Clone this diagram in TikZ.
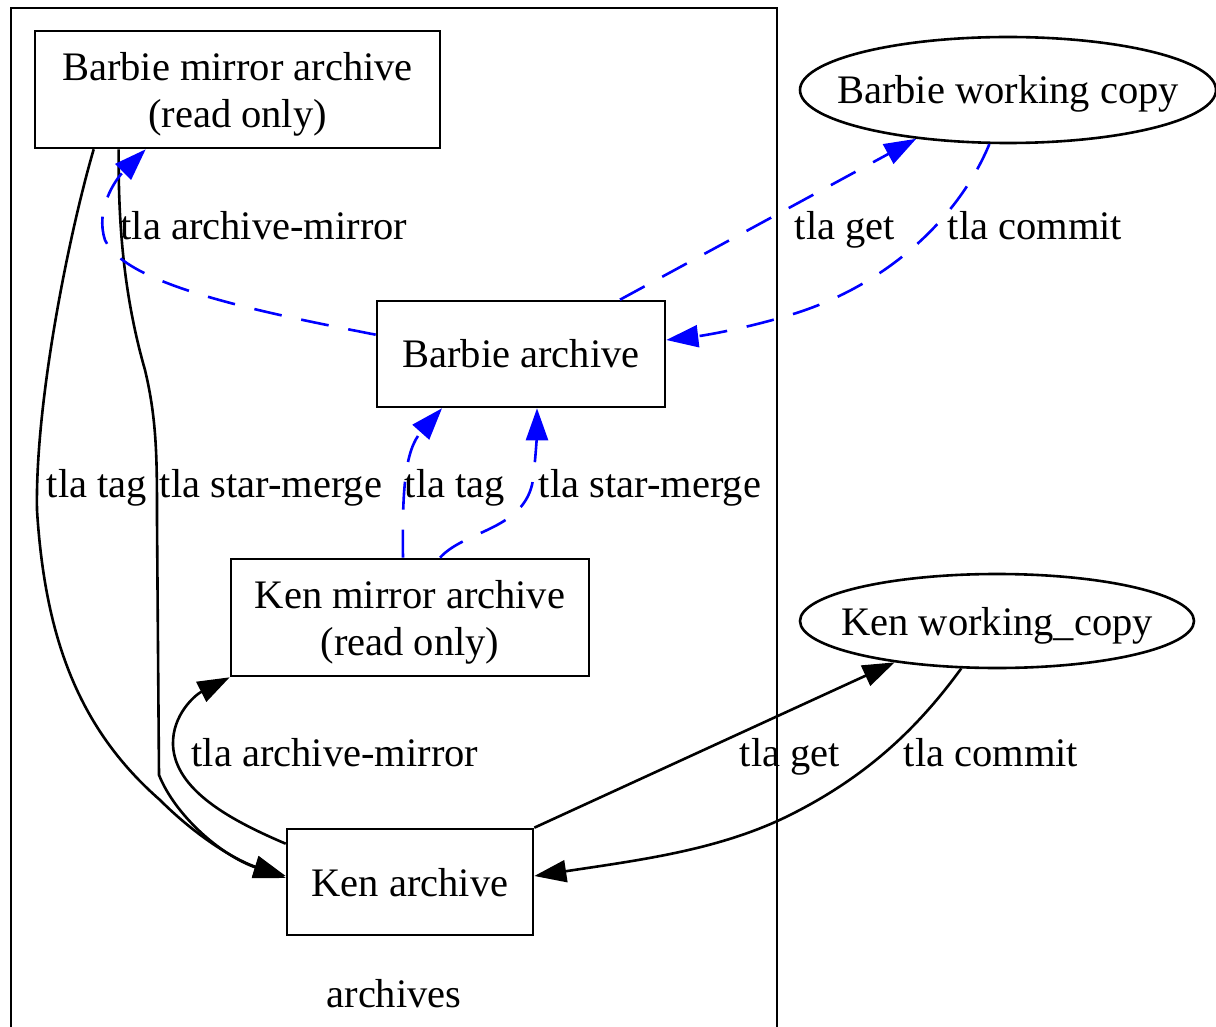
\documentclass[tikz,border=0pt]{standalone}
\usepackage{fontspec}
\setmainfont{Liberation Serif}
\usepackage{xcolor}
\usetikzlibrary{shapes.geometric, arrows.meta}

\begin{document}
\begin{tikzpicture}[x=0.5pt, y=-0.5pt, line width=1.3pt,
        every node/.style = {font=\fontsize{20.25}{23.8}\selectfont},
        box/.style = {draw, rectangle, align=center, inner sep=0pt, text height=14pt, text depth=0pt},
        twoline/.style = {text height=38.2pt, text depth=0pt},
        wcopy/.style = {draw, ellipse, inner sep=0pt, text height=14pt, text depth=0pt},
        lbl/.style = {anchor=base, inner sep=0pt},
        arr/.style = {-{Triangle[length=16pt, width=11pt]}},
        barr/.style = {arr, blue, dash pattern=on 14pt off 10pt}]
        \useasboundingbox (0,0) rectangle (1216,1027);

        \draw (11,1027) -- (11,8) -- (777,8) -- (777,1027);
        \node[lbl] (arch) at (394,1007) {archives};

        \node[box, twoline, minimum width=202.5pt, minimum height=58.5pt] (bma) at (237.5,89.5) {Barbie mirror archive\\(read only)};
        \node[box, minimum width=144pt, minimum height=53pt] (ba) at (521,354) {Barbie archive};
        \node[box, twoline, minimum width=179pt, minimum height=58.5pt] (kma) at (410,617.5) {Ken mirror archive\\(read only)};
        \node[box, minimum width=123pt, minimum height=53pt] (ka) at (410,882) {Ken archive};
        \node[wcopy, minimum width=208pt, minimum height=53pt] (bwc) at (1008,90) {\makebox[0pt]{Barbie working copy}};
        \node[wcopy, minimum width=197pt, minimum height=47pt] (kwc) at (997,621) {\makebox[0pt]{Ken working\_copy}};

        \draw[arr] ([xshift=30pt]bma.south west) .. controls (70,230) and (35,400) .. (37,510) .. controls (45,640) and (80,730) .. (160,800) .. controls (200,840) and (240,862) .. ([yshift=3pt]ka.west);
        \draw[arr] ([xshift=42.5pt]bma.south west) .. controls (118,230) and (125,300) .. (145,370) .. controls (157,420) and (157,460) .. (157,520) -- (159,775) .. controls (175,815) and (220,855) .. ([yshift=2pt]ka.west);
        \draw[arr] ([yshift=-8pt]ka.north west) .. controls (230,820) and (175,790) .. (173,745) .. controls (172,715) and (195,695) .. (kma.south west);
        \draw[arr] (ka.north east) -- (kwc.202);
        \draw[arr] (kwc.233) .. controls (920,725) and (870,775) .. (790,815) .. controls (720,850) and (640,860) .. ([yshift=3pt]ka.east);

        \draw[barr] ([yshift=-17.5pt]ba.north west) .. controls (260,312) and (125,285) .. (105,240) .. controls (95,210) and (115,180) .. ([xshift=56pt]bma.south west);
        \draw[barr] ([xshift=49.5pt]ba.north) -- (bwc.208);
        \draw[barr] (bwc.251) .. controls (960,215) and (890,285) .. (790,315) .. controls (740,330) and (700,336) .. ([yshift=7pt]ba.east);
        \draw[barr] ([xshift=-3.5pt]kma.north) .. controls (402,490) and (405,450) .. ([xshift=-39.5pt]ba.south);
        \draw[barr] ([xshift=15pt]kma.north) .. controls (465,530) and (525,530) .. (533,480) .. controls (536,455) and (537,430) .. ([xshift=8pt]ba.south);

        \node[lbl] (bmir) at (264,240) {tla archive-mirror};
        \node[lbl] (bget) at (845,240) {tla get};
        \node[lbl] (bcom) at (1035,240) {tla commit};
        \node[lbl] (tagk) at (97,497) {tla tag};
        \node[lbl] (stark) at (271,497) {tla star-merge};
        \node[lbl] (tagb) at (455,497) {tla tag};
        \node[lbl] (starb) at (650,497) {tla star-merge};
        \node[lbl] (kmir) at (335,766) {tla archive-mirror};
        \node[lbl] (kget) at (790,766) {tla get};
        \node[lbl] (kcom) at (991,766) {tla commit};
\end{tikzpicture}
\end{document}
